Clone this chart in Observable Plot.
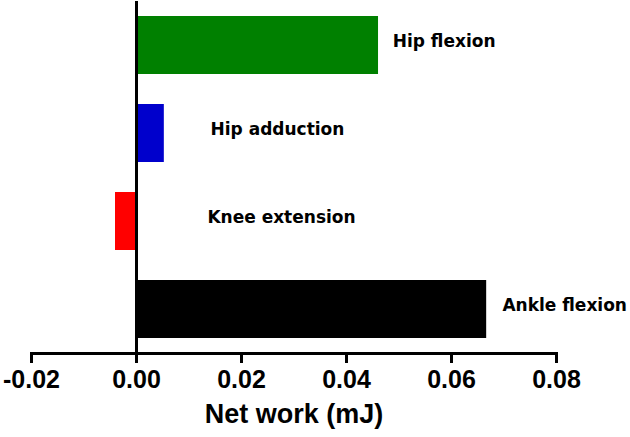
<!DOCTYPE html>
<html>
<head>
<meta charset="utf-8">
<script src="https://cdn.jsdelivr.net/npm/d3@7"></script>
<script src="https://cdn.jsdelivr.net/npm/@observablehq/plot@0.6"></script>
<style>
  html, body { margin: 0; padding: 0; background: #fff; }
</style>
</head>
<body>
<div id="chart"></div>
<script>
const categories = ["Hip flexion", "Hip adduction", "Knee extension", "Ankle flexion"];
const netWork = [0.0461, 0.0053, -0.0040, 0.0667];
const barColors = ["#008000", "#0000cc", "#ff0000", "#000000"];
const xTicks = [-0.02, 0.00, 0.02, 0.04, 0.06, 0.08];
const xTitle = "Net work (mJ)";

const rows = categories.map((c, i) => ({category: c, value: netWork[i], color: barColors[i]}));
// annotation placement (x in data units where each label starts)
const labelStart = {"Hip flexion": 0.0488, "Hip adduction": 0.0141, "Knee extension": 0.0135, "Ankle flexion": 0.0697};

const chart = Plot.plot({
  width: 630,
  height: 437,
  marginTop: 1,
  marginBottom: 84,
  marginLeft: 31,
  marginRight: 74,
  style: {fontFamily: "'Liberation Sans', Arial, sans-serif", background: "#fff"},
  x: {domain: [-0.02, 0.08], ticks: xTicks},
  y: {domain: categories, paddingInner: 0.34, paddingOuter: 0.17, axis: null},
  marks: [
    Plot.barX(rows, {x: "value", y: "category", fill: "color"}),
    Plot.ruleX([0], {stroke: "#000", strokeWidth: 3}),
    Plot.frame({anchor: "bottom", stroke: "#000", strokeWidth: 3}),
    Plot.axisX({ticks: xTicks, tickSize: 10, tickPadding: 7, tickFormat: d => d.toFixed(2),
      fontSize: 25, fontWeight: "bold", stroke: "#000", strokeWidth: 3, fill: "#000", label: null}),
    Plot.text(rows, {x: d => labelStart[d.category], y: "category", text: "category",
      textAnchor: "start", dy: -4, fontSize: 17, fontWeight: "bold",
      fontFamily: "'DejaVu Sans', Verdana, sans-serif", fill: "#000"}),
    Plot.text([xTitle], {frameAnchor: "bottom", dy: 69, text: d => d,
      fontSize: 27, fontWeight: "bold", fill: "#000"})
  ]
});
document.getElementById("chart").appendChild(chart);
</script>
</body>
</html>
